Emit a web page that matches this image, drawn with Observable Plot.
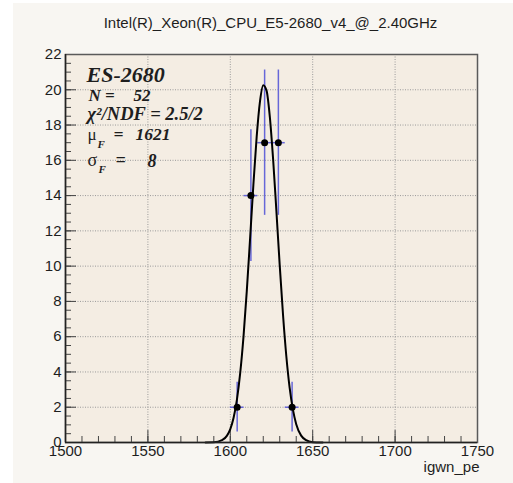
<!DOCTYPE html>
<html>
<head>
<meta charset="utf-8">
<script src="https://cdn.jsdelivr.net/npm/d3@7"></script>
<script src="https://cdn.jsdelivr.net/npm/@observablehq/plot@0.6"></script>
<style>
  html, body { margin: 0; padding: 0; background: #ffffff; }
  #chart { padding: 3px 0 0 13px; width: 500px; }
  #chart svg { display: block; }
</style>
</head>
<body>
<div id="chart"></div>
<script>
// ---- data ----
const title = "Intel(R)_Xeon(R)_CPU_E5-2680_v4_@_2.40GHz";
const xLabel = "igwn_pe";
const binCenters = [1604.17, 1612.5, 1620.83, 1629.17, 1637.5];
const counts = [2, 14, 17, 17, 2];
const yErr = [1.41, 3.74, 4.12, 4.12, 1.41];
const xHalfWidth = [4.17, 4.17, 4.17, 4.17, 4.17];
// fitted gaussian curve
const fitX = [1585, 1590, 1595, 1598, 1600, 1602, 1604, 1606, 1608, 1610, 1612, 1614, 1616, 1618, 1620, 1622, 1624, 1626, 1628, 1630, 1632, 1634, 1636, 1638, 1640, 1643, 1646, 1650, 1656];
const fitY = [0.0, 0.01, 0.13, 0.39, 0.76, 1.40, 2.42, 3.93, 5.99, 8.58, 11.55, 14.6, 17.33, 19.33, 20.26, 19.95, 18.45, 16.03, 13.08, 10.03, 7.23, 4.89, 3.11, 1.86, 1.04, 0.39, 0.13, 0.02, 0.0];
const xTicks = [1500, 1550, 1600, 1650, 1700, 1750];
const xMinorTicks = d3.range(1500, 1751, 10);
const yTicks = [0, 2, 4, 6, 8, 10, 12, 14, 16, 18, 20, 22];
const yMinorTicks = d3.range(0, 22.01, 0.5);
const xGrid = [1550, 1600, 1650, 1700];
const yGrid = [2, 4, 6, 8, 10, 12, 14, 16, 18, 20];
const statName = "ES-2680";
const statN = "52";
const statChi = "χ²/NDF = 2.5/2";
const statMu = "1621";
const statSigma = "8";

const points = binCenters.map((x, i) => ({x, y: counts[i], e: yErr[i], w: xHalfWidth[i]}));
const fit = fitX.map((x, i) => ({x, y: fitY[i]}));

const serif = "'Liberation Serif', 'DejaVu Serif', serif";
const sans = "'Liberation Sans', Arial, sans-serif";
const ink = "#1e1e1e";
const errColor = "#6767d8";

function label(text, dx, dy, opts = {}) {
  return Plot.text([text], {
    frameAnchor: "top-left", dx, dy, textAnchor: "start", lineAnchor: "bottom",
    fontFamily: serif, fontWeight: "bold", fontStyle: "italic", fontSize: 17, fill: ink,
    ...opts
  });
}

const chart = Plot.plot({
  width: 500,
  height: 480,
  marginLeft: 52,
  marginRight: 36,
  marginTop: 51,
  marginBottom: 41,
  style: {background: "#f8f6f2", fontFamily: sans},
  x: {domain: [1500, 1750], label: null},
  y: {domain: [0, 22], label: null},
  marks: [
    Plot.frame({fill: "#f4ede3", stroke: null}),
    Plot.gridX({ticks: xGrid, stroke: "#9a9a9a", strokeOpacity: 1, strokeDasharray: "1,1.5", strokeWidth: 1}),
    Plot.gridY({ticks: yGrid, stroke: "#9a9a9a", strokeOpacity: 1, strokeDasharray: "1,1.5", strokeWidth: 1}),
    // inward ticks
    Plot.axisY({ticks: yMinorTicks, tickSize: 6, dx: 6, tickFormat: () => "", stroke: "#444", strokeWidth: 1}),
    Plot.axisY({ticks: yTicks, tickSize: 11, dx: 11, tickFormat: () => "", stroke: "#444", strokeWidth: 1}),
    Plot.axisX({ticks: xMinorTicks, tickSize: 6, dy: -6, tickFormat: () => "", stroke: "#444", strokeWidth: 1}),
    Plot.axisX({ticks: xTicks, tickSize: 12, dy: -12, tickFormat: () => "", stroke: "#444", strokeWidth: 1}),
    // tick labels
    Plot.axisY({ticks: yTicks, tickSize: 0, tickPadding: 4, fontSize: 15, fill: ink, tickFormat: d => String(d)}),
    Plot.axisX({ticks: xTicks, tickSize: 0, tickPadding: 3, fontSize: 15, fill: ink, tickFormat: d => String(d)}),
    // error bars
    Plot.ruleX(points, {x: "x", y1: d => d.y - d.e, y2: d => d.y + d.e, stroke: errColor, strokeWidth: 1.5}),
    Plot.ruleY(points, {y: "y", x1: d => d.x - d.w, x2: d => d.x + d.w, stroke: errColor, strokeWidth: 1.5}),
    // fit
    Plot.line(fit, {x: "x", y: "y", stroke: "#000", strokeWidth: 2, curve: "monotone-x"}),
    Plot.dot(points, {x: "x", y: "y", r: 3.5, fill: "#000", stroke: "none"}),
    // frame
    Plot.frame({stroke: "#5a5a5a", strokeWidth: 1.5}),
    Plot.ruleY([0], {stroke: "#222", strokeWidth: 1.5}),
    Plot.ruleX([1500], {stroke: "#222", strokeWidth: 1.5}),
    // title and axis label
    Plot.text([title], {frameAnchor: "top", dx: -1, dy: -27, lineAnchor: "bottom", fontSize: 15, fill: ink, fontFamily: sans}),
    Plot.text([xLabel], {frameAnchor: "bottom-right", dx: 2, dy: 29, textAnchor: "end", lineAnchor: "bottom", fontSize: 15, fill: ink, fontFamily: sans}),
    // statistics box
    label(statName, 21, 27, {fontSize: 22}),
    label("N =", 23, 46),
    label(statN, 68, 46),
    label(statChi, 22, 65, {fontSize: 18.5}),
    label("μ", 22, 85, {fontStyle: "normal", fontWeight: "normal", fontSize: 17}),
    label("F", 32, 93, {fontSize: 11}),
    label("=", 48, 85, {fontSize: 17.5}),
    label(statMu, 70, 85, {fontSize: 17.5}),
    label("σ", 22, 111, {fontStyle: "normal", fontWeight: "normal", fontSize: 18}),
    label("F", 33, 118, {fontSize: 11}),
    label("=", 50, 111, {fontSize: 18}),
    label(statSigma, 82, 112, {fontSize: 18})
  ]
});
document.getElementById("chart").append(chart);
</script>
</body>
</html>
